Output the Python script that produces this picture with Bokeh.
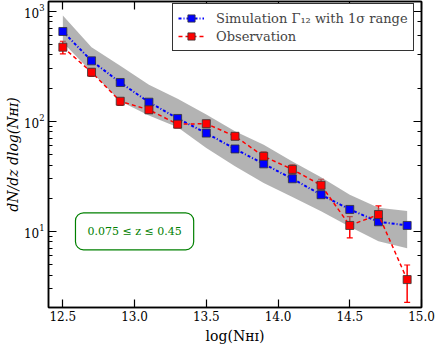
from bokeh.plotting import figure
from bokeh.models import (ColumnDataSource, Whisker, TeeHead, Legend, LegendItem, Label,
                          FixedTicker, LinearAxis, LogAxis, LogTicker, Range1d,
                          CustomJSTickFormatter)
from bokeh.embed import file_html
from bokeh.resources import INLINE

# ---- data ----
log_nhi = [12.5, 12.7, 12.9, 13.1, 13.3, 13.5, 13.7, 13.9, 14.1, 14.3, 14.5, 14.7, 14.9]
sim = [654, 354, 225, 149, 106, 78, 56, 41, 30, 21.5, 15.8, 12.2, 11.3]
sim_lo = [520, 280, 152, 113, 88, 57, 39, 27.5, 20.5, 15.2, 11.0, 8.1, 7.0]
sim_hi = [915, 471, 320, 215, 160, 115, 81, 61, 43, 31, 21.5, 16.4, 15.3]
obs = [471, 279, 152, 127, 94, 95, 73, 48, 36.5, 26.2, 11.3, 14.2, 3.64]
obs_lo = [409, 255, 139, 118, 87, 88, 68, 44.2, 33.1, 23.8, 8.7, 12.6, 2.26]
obs_hi = [533, 299, 161, 136, 101, 102, 78, 52.6, 40.2, 29.7, 13.6, 17.0, 4.94]
x_ticks = [12.5, 13.0, 13.5, 14.0, 14.5, 15.0]
x_label = "log(Nʜɪ)"
y_label = "dN/dz dlog(Nʜɪ)"
legend_sim = "Simulation Γ₁₂ with 1σ range"
legend_obs = "Observation"
z_text = "0.075 ≤ z ≤ 0.45"

SERIF = "DejaVu Serif"

src_sim = ColumnDataSource(dict(x=log_nhi, y=sim, lo=sim_lo, hi=sim_hi))
src_obs = ColumnDataSource(dict(x=log_nhi, y=obs, lo=obs_lo, hi=obs_hi))

p = figure(width=436, height=346, y_axis_type="log",
           x_range=Range1d(12.4, 15.0), y_range=Range1d(2.03, 1225),
           output_backend="svg", toolbar_location=None,
           min_border_left=48, min_border_right=15, min_border_top=1, min_border_bottom=39)
p.grid.visible = False
p.outline_line_color = "black"
p.outline_line_width = 1.5
p.background_fill_color = "white"
p.border_fill_color = "white"

# band
p.varea(x="x", y1="lo", y2="hi", source=src_sim, fill_color="gray", fill_alpha=0.6)

# simulation
l_sim = p.line("x", "y", source=src_sim, line_color="blue", line_width=2, line_dash="3 2 1 2")
s_sim = p.scatter("x", "y", source=src_sim, marker="square", size=8, fill_color="blue",
                  line_color="#333333", line_width=0.8)

# observation
l_obs = p.line("x", "y", source=src_obs, line_color="red", line_width=1.5, line_dash="4 3")
w = Whisker(base="x", lower="lo", upper="hi", source=src_obs, line_color="red", line_width=1.5,
            upper_head=TeeHead(size=6, line_color="red", line_width=1.2),
            lower_head=TeeHead(size=6, line_color="red", line_width=1.2))
p.add_layout(w)
s_obs = p.scatter("x", "y", source=src_obs, marker="square", size=8, fill_color="red",
                  line_color="#333333", line_width=0.8)

# axes
def style_axis(ax, labels=True):
    ax.axis_line_color = "black"
    ax.axis_line_width = 1.5
    ax.major_tick_line_color = "black"
    ax.minor_tick_line_color = "black"
    ax.major_tick_line_width = 1.2
    ax.minor_tick_line_width = 1.0
    ax.major_tick_in = 8
    ax.major_tick_out = 0
    ax.minor_tick_in = 4
    ax.minor_tick_out = 0
    ax.major_label_text_font = SERIF
    ax.major_label_text_font_size = "12px"
    ax.major_label_text_color = "black"
    ax.axis_label_text_font = SERIF
    ax.axis_label_text_font_size = "14px"
    ax.axis_label_text_font_style = "normal"
    ax.axis_label_text_color = "black"
    ax.axis_label_standoff = 0
    if not labels:
        ax.formatter = CustomJSTickFormatter(code="return ''")
        ax.major_label_standoff = 0

xb = p.xaxis[0]
xb.ticker = FixedTicker(ticks=x_ticks, minor_ticks=[])
xb.major_label_overrides = {t: f"{t:.1f}" for t in x_ticks}
style_axis(xb)
xb.major_label_standoff = 3
xb.axis_label = x_label
xb.axis_label_standoff = 4
yl = p.yaxis[0]
style_axis(yl)
yl.major_label_standoff = 4
yl.axis_label = y_label
yl.axis_label_text_font_style = "italic"

xt = LinearAxis(ticker=FixedTicker(ticks=x_ticks, minor_ticks=[]))
style_axis(xt, labels=False)
p.add_layout(xt, "above")
yr = LogAxis(ticker=LogTicker())
style_axis(yr, labels=False)
p.add_layout(yr, "right")

# legend
legend = Legend(items=[LegendItem(label=legend_sim, renderers=[l_sim, s_sim]),
                       LegendItem(label=legend_obs, renderers=[l_obs, s_obs])],
                location=(124, 256), padding=5, spacing=0, margin=0,
                glyph_width=26, glyph_height=18, label_height=18, label_standoff=12,
                label_text_font=SERIF, label_text_font_size="13px",
                border_line_color="black", border_line_width=1, border_line_alpha=0.8,
                background_fill_color="white", background_fill_alpha=1.0)
p.add_layout(legend, "center")

# redshift box
zl = Label(x=13.0, y=10, text=z_text, text_align="center", text_baseline="middle",
           text_font=SERIF, text_font_size="11px", text_color="green",
           border_line_color="green", border_line_width=1.2,
           background_fill_color="white", padding=12, border_radius=8)
p.add_layout(zl)

open("out.html", "w").write(file_html(p, INLINE))
